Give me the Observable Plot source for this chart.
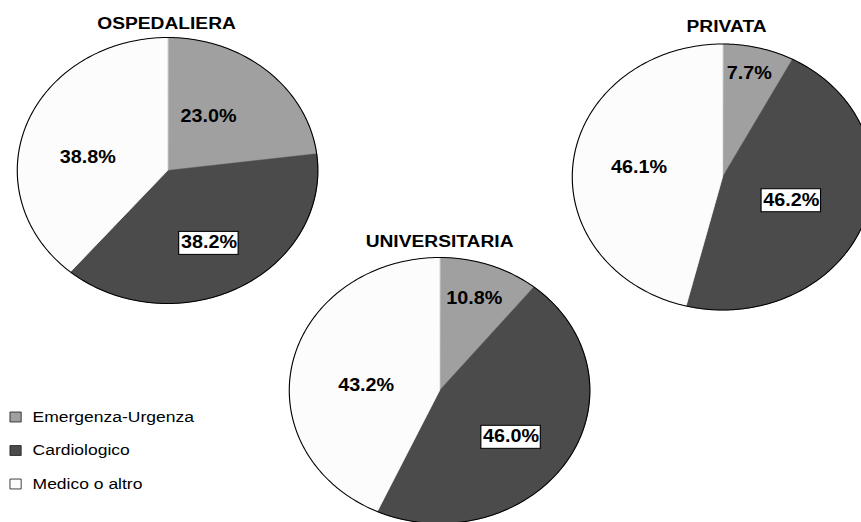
<!DOCTYPE html>
<html><head><meta charset="utf-8">
<script src="https://cdn.jsdelivr.net/npm/d3@7"></script>
<script src="https://cdn.jsdelivr.net/npm/@observablehq/plot@0.6"></script>
<style>html,body{margin:0;padding:0;background:#fff;overflow:hidden}</style>
</head><body><div id="chart"></div>
<script>
// ---- data ----
const charts = ["OSPEDALIERA", "PRIVATA", "UNIVERSITARIA"];
const categories = ["Emergenza-Urgenza", "Cardiologico", "Medico o altro"];
const ospedaliera = [23.0, 38.2, 38.8];
const privata = [7.7, 46.2, 46.1];
const universitaria = [10.8, 46.0, 43.2];
const seriesValues = [ospedaliera, privata, universitaria];

// ---- styles / layout ----
const colors = ["#a0a0a0", "#4b4b4b", "#fcfcfc"];
const W = 861, H = 522;
const S = 1.13;              // horizontal stretch of the original picture
const innerW = W / S;
const R = 133;
const pieCenters = [[167, 170], [722, 176.5], [439, 390]];
const titlePos = [[166, 23], [726, 26], [439, 241]];
// label placement: radius fraction and angular nudge (degrees) from the slice's mid-angle
const labelRadius = [[0.49, 0.61, 0.54], [0.80, 0.49, 0.56], [0.73, 0.59, 0.49]];
const labelNudge = [[-7.5, 1.6, -9.8], [-1, 0, 0.5], [-1, 4.5, -7.7]];
const boxedCategory = "Cardiologico";
const legendLayout = {x: 15, textX: 32, y: 416.5, dy: 33.5};
const fontFamily = '"Liberation Sans", Arial, Helvetica, sans-serif';
const labelFont = 17.5, titleFont = 17, legendFont = 15.5;

const ctx = document.createElement("canvas").getContext("2d");
ctx.font = `bold ${labelFont}px ${fontFamily}`;

const wedges = [], outlines = [], labels = [], boxes = [];
charts.forEach((name, i) => {
  const [cx, cy] = pieCenters[i];
  const arcs = d3.pie().sort(null)(seriesValues[i]);
  const pt = (a, f = 1) => ({x: cx + f * R * S * Math.sin(a), y: cy - f * R * Math.cos(a)});
  arcs.forEach((a, j) => {
    const key = name + "-" + j;
    const pts = [pt(0, 0)];
    const n = Math.max(2, Math.ceil((a.endAngle - a.startAngle) / (Math.PI / 180)));
    for (let k = 0; k <= n; k++) pts.push(pt(a.startAngle + (a.endAngle - a.startAngle) * k / n));
    pts.forEach(p => wedges.push({...p, key, category: categories[j]}));
    const mid = (a.startAngle + a.endAngle) / 2 + labelNudge[i][j] * Math.PI / 180;
    const lp = pt(mid, labelRadius[i][j]);
    const text = a.data.toFixed(1) + "%";
    labels.push({...lp, text});
    if (categories[j] === boxedCategory) {
      const w = ctx.measureText(text).width + 3;
      boxes.push({x1: lp.x - (w / 2) * S, x2: lp.x + (w / 2) * S, y1: lp.y - 11, y2: lp.y + 12});
    }
  });
  for (let k = 0; k < 360; k++) outlines.push({...pt(k * Math.PI / 180), key: name});
});
const titles = charts.map((name, i) => ({name, x: titlePos[i][0], y: titlePos[i][1]}));
const legendRows = categories.map((category, i) => ({category, y: legendLayout.y + i * legendLayout.dy}));

const plot = Plot.plot({
  width: innerW, height: H, margin: 0,
  x: {domain: [0, W], range: [0, innerW], axis: null},
  y: {domain: [0, H], range: [0, H], axis: null},
  color: {domain: categories, range: colors},
  style: {fontFamily, background: "white", overflow: "hidden", color: "black"},
  marks: [
    Plot.line(wedges, {x: "x", y: "y", z: "key", fill: "category", stroke: "category", strokeWidth: 0.6, curve: "linear-closed"}),
    Plot.line(outlines, {x: "x", y: "y", z: "key", stroke: "black", strokeWidth: 1, curve: "linear-closed"}),
    Plot.rect(boxes, {x1: "x1", x2: "x2", y1: "y1", y2: "y2", fill: "white", stroke: "black", strokeWidth: 1}),
    Plot.text(labels, {x: "x", y: "y", text: "text", fontSize: labelFont, fontWeight: "bold", fill: "black"}),
    Plot.text(titles, {x: "x", y: "y", text: "name", fontSize: titleFont, fontWeight: "bold", fill: "black"}),
    Plot.dot(legendRows, {x: () => legendLayout.x, y: "y", symbol: "square", r: 5.6, fill: "category", stroke: "#222", strokeWidth: 0.8}),
    Plot.text(legendRows, {x: () => legendLayout.textX, y: "y", text: "category", textAnchor: "start", fontSize: legendFont, fill: "black"})
  ]
});
plot.setAttribute("width", W);
plot.setAttribute("height", H);
plot.setAttribute("preserveAspectRatio", "none");
Object.assign(plot.style, {width: W + "px", height: H + "px", maxWidth: "none", display: "block"});
document.getElementById("chart").appendChild(plot);
</script>
</body></html>
